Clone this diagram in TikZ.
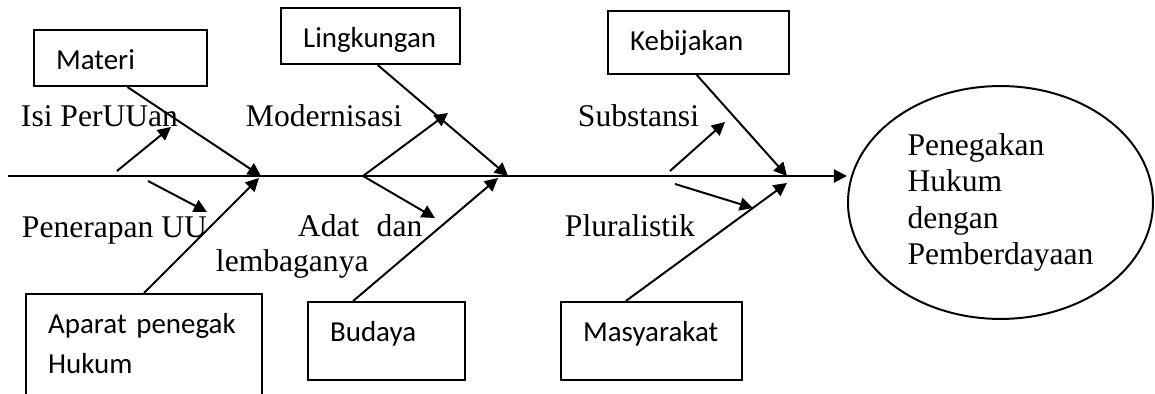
\documentclass[tikz,border=0pt]{standalone}
\usepackage{fontspec}
\setmainfont{Liberation Serif}
\newfontfamily\boxfont{Carlito}
\usetikzlibrary{arrows.meta,calc,shapes.geometric}
\hyphenpenalty=10000
\exhyphenpenalty=10000
\tikzset{
  causebox/.style 2 args={draw, anchor=north west, align=left,
    font=\boxfont\fontsize{11}{15.2}\selectfont,
    inner xsep=8.4pt, inner ysep=0pt, text height=15.2pt,
    text width=#1, text depth=#2},
  sublabel/.style={anchor=base west, inner sep=0pt,
    font=\rmfamily\fontsize{12}{13.8}\selectfont},
  goal/.style={draw, ellipse, align=left, inner sep=0pt,
    minimum width=115.9pt, minimum height=88.5pt,
    font=\rmfamily\fontsize{12}{13.8}\selectfont}
}
\begin{document}
\begin{tikzpicture}[x=0.38pt, y=-0.38pt, line width=0.75pt,
    >={Triangle[length=5pt,width=5pt]}]
  \useasboundingbox (0,0) rectangle (1155,394);
  \clip (0,0) rectangle (1155,394);

  \node[causebox={48.9pt}{6.1pt}] (materi) at (33,29) {Materi};
  \node[causebox={51.2pt}{6.1pt}] (lingkungan) at (280,7) {Lingkungan};
  \node[causebox={52pt}{8.7pt}] (kebijakan) at (607,10) {Kebijakan};
  \node[causebox={72.9pt}{34.2pt}] (aparat) at (25,293) {\mbox{Aparat penegak}\\Hukum};
  \node[causebox={42.9pt}{14.4pt}] (budaya) at (307,301) {Budaya};
  \node[causebox={52pt}{14.4pt}] (masyarakat) at (560,301) {Masyarakat};
  \node[goal] (goal) at (1000.5,202.5) {Penegakan\\Hukum\\dengan\\Pemberdayaan};

  \node[sublabel] (isi) at (20,127) {Isi PerUUan};
  \node[sublabel] (modern) at (245,127) {Modernisasi};
  \node[sublabel] (substansi) at (577,127) {Substansi};
  \node[sublabel] (penerapan) at (21,238) {Penerapan UU};
  \node[sublabel] (adat) at (297,237) {Adat\hspace{0.55em}dan};
  \node[sublabel] (lembaga) at (215,272) {lembaganya};
  \node[sublabel] (plural) at (564,237) {Pluralistik};

  \coordinate (tail) at (8,176);
  \coordinate (hukumJ) at (261,176);
  \coordinate (aparatJ) at (259,178);
  \coordinate (budayaJ) at (508,176);
  \coordinate (budaya2J) at (498,178);
  \coordinate (kebijakanJ) at (787,176);
  \coordinate (masyJ) at (787,183);
  \coordinate (fork) at (363,176);

  \draw[->] (tail) -- (tail -| goal.west);
  \draw[->] ($(materi.south west)!0.54!(materi.south east)$) -- (hukumJ);
  \draw[->] (aparat.north) -- (aparatJ);
  \draw[->] ($(lingkungan.south west)!0.54!(lingkungan.south east)$) -- (budayaJ);
  \draw[->] ($(budaya.north west)!0.29!(budaya.north east)$) -- (budaya2J);
  \draw[->] ($(kebijakan.south west)!0.49!(kebijakan.south east)$) -- (kebijakanJ);
  \draw[->] ($(masyarakat.north west)!0.36!(masyarakat.north east)$) -- (masyJ);

  \draw[->] (117,171) -- (171,127);
  \draw[->] (148,181) -- (207,212);
  \draw[->] (fork) -- (448,113);
  \draw[->] (fork) -- (435,218);
  \draw[->] (670,171) -- (725,122);
  \draw[->] (675,184) -- (753,208);
\end{tikzpicture}
\end{document}
